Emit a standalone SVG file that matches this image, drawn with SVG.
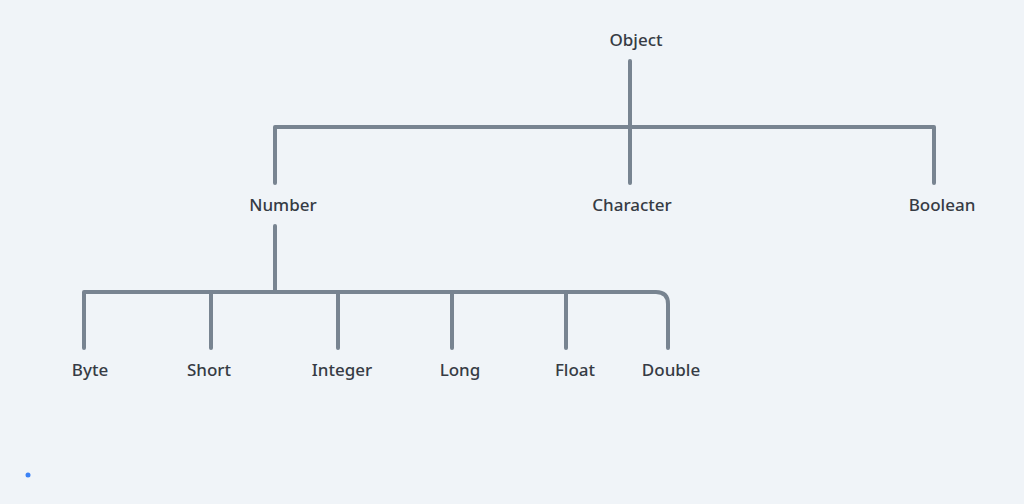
<svg xmlns="http://www.w3.org/2000/svg" width="1024" height="504" viewBox="0 0 1024 504">
<style>
.lbl{font-family:"Noto Sans","DejaVu Sans",sans-serif;font-size:17px;font-weight:500;fill:#363b44;text-anchor:middle}
.ln{fill:none;stroke:#788491;stroke-width:4;stroke-linecap:round;stroke-linejoin:round}
</style>
<rect width="1024" height="504" fill="#f0f4f8"/>
<g id="connectors">
<path class="ln" d="M630 61 V127"/>
<path class="ln" d="M275 183 V127 H934 V183"/>
<path class="ln" d="M630 127 V183"/>
<path class="ln" d="M275 226 V292"/>
<path class="ln" d="M84 348 V292 H656 Q668 292 668 304 V348"/>
<path class="ln" d="M211 292 V348"/>
<path class="ln" d="M338 292 V348"/>
<path class="ln" d="M452 292 V348"/>
<path class="ln" d="M566 292 V348"/>
</g>
<g id="object"><text class="lbl" x="636" y="46">Object</text></g>
<g id="number"><text class="lbl" x="283" y="211">Number</text></g>
<g id="character"><text class="lbl" x="632" y="211">Character</text></g>
<g id="boolean"><text class="lbl" x="942" y="211">Boolean</text></g>
<g id="byte"><text class="lbl" x="90" y="376">Byte</text></g>
<g id="short"><text class="lbl" x="209" y="376">Short</text></g>
<g id="integer"><text class="lbl" x="342" y="376">Integer</text></g>
<g id="long"><text class="lbl" x="460" y="376">Long</text></g>
<g id="float"><text class="lbl" x="575" y="376">Float</text></g>
<g id="double"><text class="lbl" x="671" y="376">Double</text></g>
<circle cx="28" cy="475" r="2.5" fill="#3b82f6"/>
</svg>
